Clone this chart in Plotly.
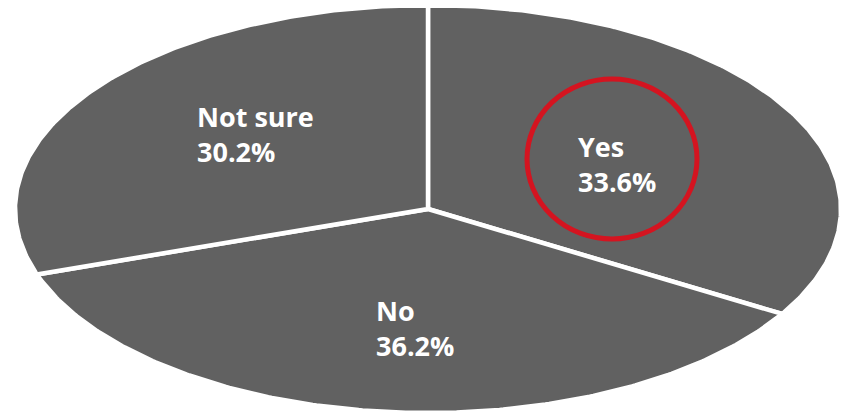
import numpy as np
import plotly.graph_objects as go

# Data
labels = ["Yes", "No", "Not sure"]
values = [33.6, 36.2, 30.2]
pct_text = ["33.6%", "36.2%", "30.2%"]

W, H = 849, 414
OFF = 8  # page body margin offset
CX, CY, RX, RY = 428, 209, 413, 204
SLICE_COLOR = "#616161"

fig = go.Figure()

total = sum(values)
start = 90.0  # degrees, clockwise from top
for lab, v in zip(labels, values):
    span = 360.0 * v / total
    th = np.radians(np.linspace(start, start - span, 240))
    xs = np.concatenate([[CX], CX + RX * np.cos(th), [CX]])
    ys = np.concatenate([[CY], CY - RY * np.sin(th), [CY]])
    fig.add_trace(go.Scatter(
        x=xs, y=ys, mode="lines", fill="toself",
        fillcolor=SLICE_COLOR, line=dict(color="white", width=4.5),
        hoverinfo="text", text=lab, showlegend=False,
    ))
    start -= span

font = dict(family="Open Sans", size=27, color="white")
label_pos = {"Not sure": (195, 134), "Yes": (576, 164), "No": (374, 328)}
for lab, txt in zip(labels, pct_text):
    x, y = label_pos[lab]
    fig.add_annotation(
        x=x, y=y, xref="x", yref="y", text=f"<b>{lab}<br>{txt}</b>",
        showarrow=False, xanchor="left", yanchor="middle", align="left",
        font=font,
    )

fig.add_shape(type="circle", xref="x", yref="y",
              x0=527, x1=697, y0=79, y1=239,
              line=dict(color="#d41420", width=5))

fig.update_xaxes(range=[OFF, W + OFF], visible=False, fixedrange=True)
fig.update_yaxes(range=[H + OFF, OFF], visible=False, fixedrange=True)
fig.update_layout(
    width=W, height=H, margin=dict(l=0, r=0, t=0, b=0),
    plot_bgcolor="white", paper_bgcolor="white",
)

fig.write_html("out.html")
